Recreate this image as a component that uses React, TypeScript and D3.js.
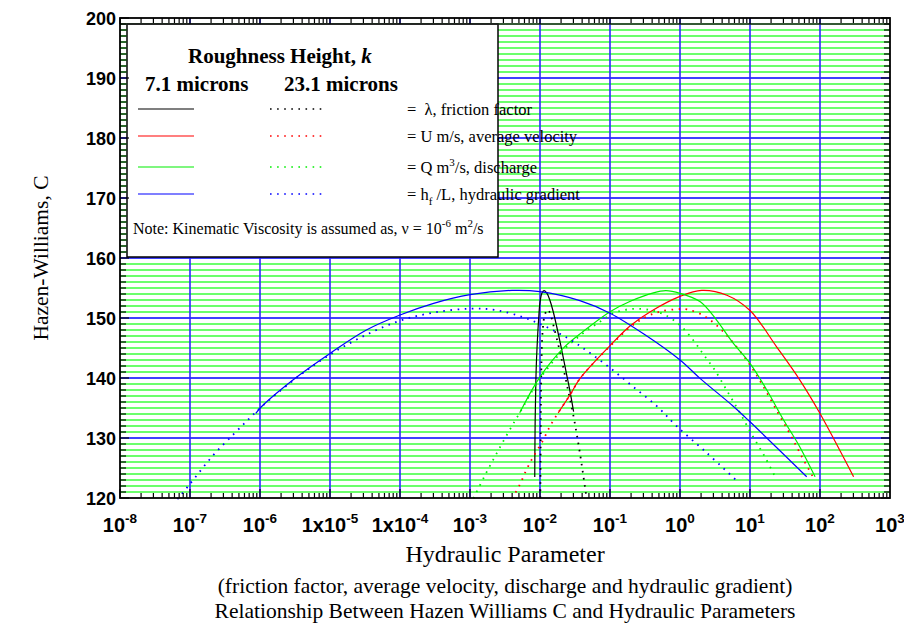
import { useEffect, useRef } from "react";
import * as d3 from "d3";

// each point: [log10 of hydraulic parameter, Hazen-Williams C]
// k = 7.1 microns (solid) and k = 23.1 microns (dotted)
const lambdaK71 = [[-2.075, 123.5], [-2.07, 132], [-2.06, 139], [-2.05, 143], [-2.02, 149.7], [-2.0, 152.6], [-1.97, 154.2], [-1.94, 154.55], [-1.9, 154.1], [-1.86, 153.0], [-1.81, 151.0], [-1.76, 148.5], [-1.69, 144.7], [-1.62, 140.6], [-1.57, 137.7], [-1.52, 134.4]];
const lambdaK231 = [[-1.995, 120], [-1.99, 130], [-1.985, 138], [-1.975, 144.5], [-1.96, 148.2], [-1.93, 150.6], [-1.89, 151.4], [-1.85, 150.6], [-1.8, 148.4], [-1.71, 144.1], [-1.62, 139.1], [-1.52, 133.55], [-1.43, 127.5], [-1.335, 120]];

const velocityK71 = [[-1.74, 134.2], [-1.57, 137.2], [-1.43, 139.9], [-1.0, 145.4], [-0.71, 148.7], [-0.43, 151.0], [0, 153.6], [0.31, 154.6], [0.67, 153.8], [1.0, 151.25], [1.38, 145.2], [1.71, 139.7], [1.99, 134.3], [2.48, 123.55]];
const velocityK231 = [[-2.4, 119.9], [-2.29, 122.2], [-2.19, 124.8], [-2.09, 127], [-1.96, 129.55], [-1.86, 131.9], [-1.74, 134.2], [-1.57, 137.2], [-1.43, 139.9], [-1.0, 145.3], [-0.71, 148.5], [-0.5, 150.1], [-0.29, 151.05], [0, 151.5], [0.1, 151.45], [0.33, 150.45], [0.53, 148.7], [0.73, 146.3], [0.97, 142.7], [1.17, 139], [1.4, 134.2], [1.57, 130.7], [1.74, 126.9], [1.91, 123.3]];

const dischargeK71 = [[-2.29, 134.2], [-2.0, 140.2], [-1.67, 144.95], [-1.4, 147.6], [-1.0, 151.05], [-0.71, 152.8], [-0.38, 154.2], [-0.2, 154.55], [0, 154.1], [0.29, 152.7], [0.52, 149.7], [0.76, 145.8], [1.0, 142.45], [1.24, 138], [1.48, 133], [1.71, 128.55], [1.93, 123.55]];
const dischargeK231 = [[-2.95, 119.95], [-2.79, 123.7], [-2.63, 127.2], [-2.46, 130.8], [-2.29, 134.2], [-2.0, 139.9], [-1.67, 144.6], [-1.38, 147.5], [-1.14, 149.4], [-0.95, 150.8], [-0.74, 151.45], [-0.55, 151.5], [-0.38, 151.2], [-0.21, 150.5], [0, 148.8], [0.19, 146.3], [0.33, 144.0], [0.49, 141.45], [0.68, 137.7], [0.86, 134.1], [1.03, 130.5], [1.21, 126.9], [1.37, 123.3]];

const gradientK71 = [[-6.06, 134.1], [-5.98, 135.2], [-5.47, 140.2], [-5.0, 144.1], [-4.48, 148.0], [-4.0, 150.5], [-3.52, 152.45], [-3.0, 153.9], [-2.4, 154.6], [-2.0, 154.4], [-1.43, 152.9], [-1.0, 150.8], [-0.5, 147.2], [0, 143.0], [0.29, 139.9], [0.76, 135.3], [1.0, 132.7], [1.81, 123.55]];
const gradientK231 = [[-7.18, 119.8], [-7.01, 122.2], [-6.67, 127.1], [-6.38, 130.6], [-6.17, 133.05], [-5.98, 135.2], [-5.47, 140.1], [-5.0, 143.9], [-4.5, 147.1], [-4.0, 149.55], [-3.52, 150.9], [-3.0, 151.55], [-2.62, 151.3], [-2.12, 149.6], [-1.6, 146.6], [-1.29, 144.2], [-0.98, 141.5], [-0.67, 138.55], [-0.33, 135.3], [-0.05, 132.0], [0.38, 127.55], [0.79, 123.1]];

const seriesColors = ["#000000", "#ff0000", "#00ee00", "#0000ff"];
const legendLabels = ["lambda", "U", "Q", "hf"];
const xTickLabels = [["10", "-8"], ["10", "-7"], ["10", "-6"], ["1x10", "-5"], ["1x10", "-4"], ["10", "-3"], ["10", "-2"], ["10", "-1"], ["10", "0"], ["10", "1"], ["10", "2"], ["10", "3"]];
const yTicks = [120, 130, 140, 150, 160, 170, 180, 190, 200];

export default function App() {
  const svgRef = useRef<SVGSVGElement>(null);

  useEffect(() => {
    const svg = d3.select(svgRef.current);
    svg.selectAll("*").remove();

    const left = 120, right = 890, top = 18, bottom = 498;
    const x = d3.scaleLog().domain([1e-8, 1e3]).range([left, right]);
    const y = d3.scaleLinear().domain([120, 200]).range([bottom, top]);
    const serif = "'Liberation Serif', 'Times New Roman', serif";
    const sans = "'Liberation Sans', Arial, sans-serif";

    svg.append("rect").attr("width", 904).attr("height", 630).attr("fill", "white");

    // grid
    const grid = svg.append("g");
    d3.range(121, 200).forEach(c => {
      const major = c % 10 === 0;
      grid.append("line")
        .attr("x1", left).attr("x2", right)
        .attr("y1", y(c)).attr("y2", y(c))
        .attr("stroke", major ? "#4040ff" : "#6cff6c")
        .attr("stroke-width", 2);
    });
    d3.range(-7, 3).forEach(p => {
      grid.append("line")
        .attr("x1", x(10 ** p)).attr("x2", x(10 ** p))
        .attr("y1", top).attr("y2", bottom)
        .attr("stroke", "#2a2aff")
        .attr("stroke-width", 1.6);
    });

    // curves
    const line = d3.line<number[]>()
      .x(d => x(10 ** d[0]))
      .y(d => y(d[1]))
      .curve(d3.curveCatmullRom.alpha(0.5));

    const pairs = [
      [lambdaK71, lambdaK231],
      [velocityK71, velocityK231],
      [dischargeK71, dischargeK231],
      [gradientK71, gradientK231],
    ];
    pairs.forEach(([solid, dotted], i) => {
      svg.append("path").datum(dotted)
        .attr("d", line).attr("fill", "none")
        .attr("stroke", seriesColors[i]).attr("stroke-width", 1.8)
        .attr("stroke-dasharray", "1.6 5.5");
      svg.append("path").datum(solid)
        .attr("d", line).attr("fill", "none")
        .attr("stroke", seriesColors[i]).attr("stroke-width", 1.2);
    });

    // legend
    const lg = svg.append("g");
    lg.append("rect")
      .attr("x", 127).attr("y", 24).attr("width", 371).attr("height", 233)
      .attr("fill", "white").attr("stroke", "black").attr("stroke-width", 1.5);

    const head = lg.append("text").attr("x", 188).attr("y", 63)
      .attr("font-family", serif).attr("font-size", 21).attr("font-weight", "bold");
    head.append("tspan").text("Roughness Height, ");
    head.append("tspan").attr("font-style", "italic").text("k");
    lg.append("text").attr("x", 145).attr("y", 91)
      .attr("font-family", serif).attr("font-size", 21).attr("font-weight", "bold")
      .text("7.1 microns");
    lg.append("text").attr("x", 284).attr("y", 91)
      .attr("font-family", serif).attr("font-size", 21).attr("font-weight", "bold")
      .text("23.1 microns");

    const rowY = [109, 136, 167, 194];
    legendLabels.forEach((key, i) => {
      lg.append("line").attr("x1", 138).attr("x2", 194)
        .attr("y1", rowY[i]).attr("y2", rowY[i])
        .attr("stroke", seriesColors[i]).attr("stroke-width", 1.2);
      lg.append("line").attr("x1", 270).attr("x2", 323)
        .attr("y1", rowY[i]).attr("y2", rowY[i])
        .attr("stroke", seriesColors[i]).attr("stroke-width", 1.6)
        .attr("stroke-dasharray", "1.6 5.5");
      const t = lg.append("text").attr("x", 407).attr("y", rowY[i] + 6)
        .attr("font-family", serif).attr("font-size", 16.5);
      if (key === "lambda") {
        t.append("tspan").text("=  λ, friction factor").attr("xml:space", "preserve");
      } else if (key === "U") {
        t.append("tspan").text("= U m/s, average velocity");
      } else if (key === "Q") {
        t.append("tspan").text("= Q m");
        t.append("tspan").attr("font-size", 11).attr("dy", -7).text("3");
        t.append("tspan").attr("dy", 7).text("/s, discharge");
      } else {
        t.append("tspan").text("= h");
        t.append("tspan").attr("font-size", 11).attr("dy", 5).text("f");
        t.append("tspan").attr("dy", -5).text(" /L, hydraulic gradient");
      }
    });
    const note = lg.append("text").attr("x", 133).attr("y", 234)
      .attr("font-family", serif).attr("font-size", 16);
    note.append("tspan").text("Note: Kinematic Viscosity is assumed as, ν = 10");
    note.append("tspan").attr("font-size", 11).attr("dy", -7).text("-6");
    note.append("tspan").attr("dy", 7).text(" m");
    note.append("tspan").attr("font-size", 11).attr("dy", -7).text("2");
    note.append("tspan").attr("dy", 7).text("/s");

    // frame and ticks
    const ax = svg.append("g").attr("stroke", "black").attr("stroke-width", 1.2);
    ax.append("line").attr("x1", left).attr("x2", right).attr("y1", y(199)).attr("y2", y(199))
      .attr("stroke", "#222").attr("stroke-width", 1.4);
    d3.range(-8, 3).forEach(p => {
      d3.range(1, 10).forEach(k => {
        const xv = x(k * 10 ** p);
        const len = k === 1 ? 9 : 5;
        ax.append("line").attr("x1", xv).attr("x2", xv).attr("y1", bottom).attr("y2", bottom - len);
        ax.append("line").attr("x1", xv).attr("x2", xv).attr("y1", top).attr("y2", top + (k === 1 ? 6 : 5));
      });
    });
    d3.range(120, 201).forEach(c => {
      const len = c % 10 === 0 ? 9 : 6;
      ax.append("line").attr("x1", left).attr("x2", left + len).attr("y1", y(c)).attr("y2", y(c));
      ax.append("line").attr("x1", right).attr("x2", right - len).attr("y1", y(c)).attr("y2", y(c));
    });
    svg.append("rect")
      .attr("x", left).attr("y", top).attr("width", right - left).attr("height", bottom - top)
      .attr("fill", "none").attr("stroke", "black").attr("stroke-width", 1.8);

    // tick labels
    yTicks.forEach(c => {
      svg.append("text").attr("x", 116).attr("y", y(c) + 6.5)
        .attr("text-anchor", "end")
        .attr("font-family", sans).attr("font-size", 18).attr("font-weight", "bold")
        .text(String(c));
    });
    xTickLabels.forEach(([base, exp], i) => {
      const t = svg.append("text").attr("x", x(10 ** (i - 8))).attr("y", 532)
        .attr("text-anchor", "middle")
        .attr("font-family", sans).attr("font-size", 20).attr("font-weight", "bold");
      t.append("tspan").text(base);
      t.append("tspan").attr("font-size", 13.5).attr("dy", -9).text(exp);
    });

    // axis titles
    svg.append("text")
      .attr("transform", "translate(48,258) rotate(-90)")
      .attr("text-anchor", "middle")
      .attr("font-family", serif).attr("font-size", 21.5)
      .text("Hazen-Williams, C");
    svg.append("text").attr("x", 505).attr("y", 562).attr("text-anchor", "middle")
      .attr("font-family", serif).attr("font-size", 24)
      .text("Hydraulic Parameter");
    svg.append("text").attr("x", 505).attr("y", 593).attr("text-anchor", "middle")
      .attr("font-family", serif).attr("font-size", 21.5)
      .text("(friction factor, average velocity, discharge and hydraulic gradient)");
    svg.append("text").attr("x", 505).attr("y", 618).attr("text-anchor", "middle")
      .attr("font-family", serif).attr("font-size", 21.5)
      .text("Relationship Between Hazen Williams C and Hydraulic Parameters");
  }, []);

  return (
    <svg ref={svgRef} width={904} height={630}
      style={{ position: "absolute", left: 0, top: 0 }} />
  );
}
